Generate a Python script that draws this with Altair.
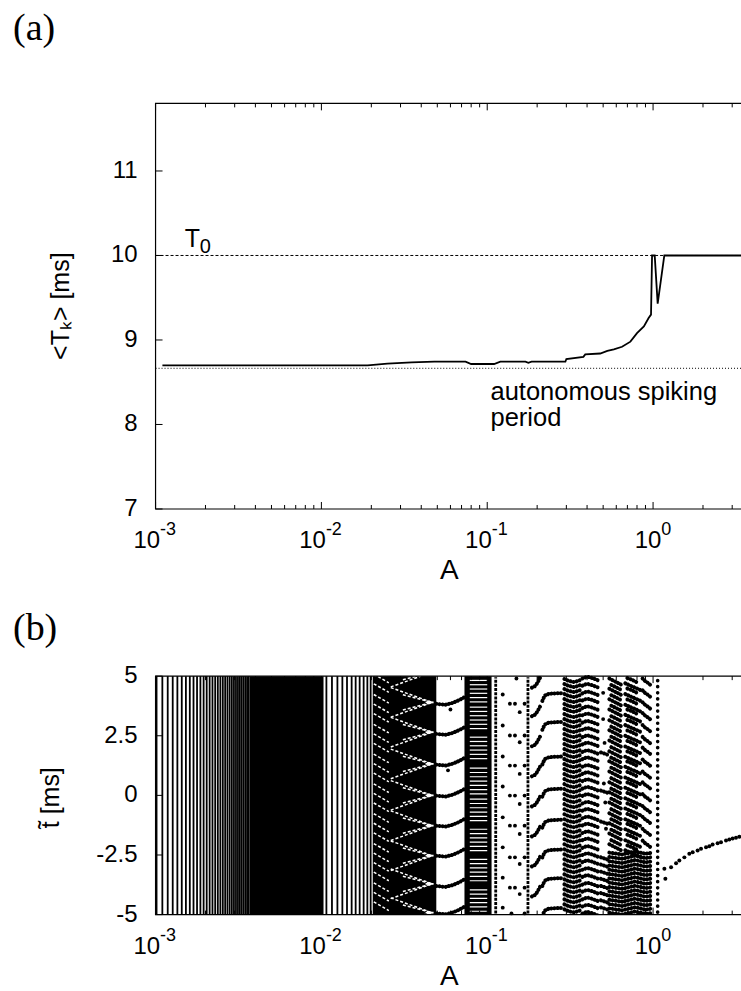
import altair as alt
import pandas as pd

# ---------------- panel (a): mean interspike interval ----------------
A_curve = [0.0011, 0.019, 0.025, 0.035, 0.048, 0.074, 0.08, 0.11, 0.12, 0.17, 0.177, 0.185,
           0.296, 0.30, 0.38, 0.39, 0.48, 0.53, 0.58, 0.65, 0.73, 0.80, 0.88, 0.94, 0.972,
           0.986, 1.023, 1.066, 1.169, 3.39]
T_curve = [8.70, 8.70, 8.72, 8.735, 8.743, 8.743, 8.716, 8.716, 8.743, 8.743, 8.73, 8.743,
           8.743, 8.775, 8.80, 8.83, 8.84, 8.87, 8.89, 8.92, 8.98, 9.08, 9.16, 9.26, 9.30,
           10.0, 10.0, 9.43, 10.0, 10.0]
T0_level = [10.0]
T_auto_level = [8.665]

ya_ticks = [7, 8, 9, 10, 11]
ya_labels = ["7", "8", "9", "10", "11"]
yb_ticks = [-5, -2.5, 0, 2.5, 5]
yb_labels = ["-5", "-2.5", "0", "2.5", "5"]
x_major = [0.001, 0.01, 0.1, 1.0]
x_exp = ["-3", "-2", "-1", "0"]
x_minor = [0.002, 0.003, 0.004, 0.005, 0.006, 0.007, 0.008, 0.009,
           0.02, 0.03, 0.04, 0.05, 0.06, 0.07, 0.08, 0.09,
           0.2, 0.3, 0.4, 0.5, 0.6, 0.7, 0.8, 0.9, 2.0, 3.0]

# ---------------- panel (b): stroboscopic spike phases ----------------
col_A = [1.014e-3, 1.099e-3, 1.184e-3, 1.269e-3, 1.354e-3, 1.439e-3, 1.524e-3, 1.609e-3,
         1.694e-3, 1.779e-3, 1.864e-3, 1.949e-3, 2.034e-3, 2.119e-3, 2.204e-3, 2.289e-3,
         2.374e-3, 2.459e-3, 2.544e-3, 2.629e-3, 2.714e-3, 2.799e-3, 2.884e-3, 2.969e-3,
         3.054e-3, 3.139e-3, 3.224e-3, 3.309e-3, 3.394e-3, 3.479e-3, 3.564e-3, 3.649e-3,
         1.072e-2, 1.158e-2, 1.249e-2, 1.338e-2, 1.427e-2, 1.522e-2, 1.609e-2, 1.701e-2,
         1.798e-2, 1.893e-2, 1.982e-2]
block_A0 = [3.70e-3, 2.04e-2, 7.29e-2]
block_A1 = [1.03e-2, 4.93e-2, 1.062e-1]
dotcol_A = [0.1125, 0.176]
sparse_col_A = [1.066]

chev_tip = [5.17, 3.9, 2.65, 1.32, 0.0, -1.27, -2.53, -3.71, -4.92]
stripe_y = [4.9, 4.5, 4.05, 3.65, 3.25, 2.8, 2.4, 2.0, 1.55, 1.15, 0.75, 0.3, -0.1, -0.5,
            -0.95, -1.35, -1.75, -2.2, -2.6, -3.0, -3.4, -3.85, -4.25, -4.65]
comb_y = [4.82, 4.64, 4.46, 4.28, 4.10, 3.92, 3.70, 3.52, 3.34, 3.16, 2.98, 2.80, 2.44, 2.26,
          2.08, 1.90, 1.72, 1.54, 1.14, 0.96, 0.78, 0.60, 0.42, 0.24, 0.06, -0.16, -0.34,
          -0.52, -0.70, -0.88, -1.06, -1.42, -1.60, -1.78, -1.96, -2.14, -2.32, -2.68, -2.86,
          -3.04, -3.22, -3.40, -3.58, -3.96, -4.14, -4.32, -4.50, -4.68, -4.86]
comb_span = [0.0785, 0.100]

stair1_y = [3.84, 2.58, 1.29, -0.01, -1.27, -2.53, -3.80, -4.95]
stair1_A = [0.0493, 0.056, 0.062, 0.068, 0.0729]
stair1_dy = [0.0, -0.04, 0.04, 0.16, 0.28]
rise_y = [4.62, 3.42, 2.16, 0.90, -0.36, -1.62, -2.88, -4.14]
rise_A = [0.186, 0.193, 0.200, 0.208]
rise_dy = [-0.1, -0.05, 0.08, 0.3]
stair2_y = [4.26, 3.05, 1.6, 0.25, -1.05, -2.3, -3.5, -4.75]
stair2_A = [0.215, 0.222, 0.235, 0.26, 0.285]
stair2_dy = [-0.3, -0.08, 0.0, 0.02, 0.03]
L1_y = [4.8, 4.59, 4.38, 4.17, 3.96, 3.75, 3.55, 3.33, 3.12, 2.91, 2.7, 2.49, 2.28, 2.07,
        1.86, 1.65, 1.44, 1.23, 1.02, 0.81, 0.6, 0.39, 0.18, -0.03, -0.24, -0.45, -0.66,
        -0.87, -1.08, -1.29, -1.5, -1.71, -1.92, -2.13, -2.34, -2.55, -2.76, -2.97, -3.18,
        -3.39, -3.6, -3.81, -4.02, -4.23, -4.44, -4.65, -4.86]
L1_A = [0.292, 0.31, 0.335, 0.365]
L1_dy = [0.08, 0.0, -0.05, 0.04]
L2_y = [4.9, 4.6, 4.28, 3.98, 3.66, 3.36, 3.05, 2.75, 2.44, 2.14, 1.82, 1.52, 1.2, 0.9, 0.6,
        0.28, -0.02, -0.34, -0.64, -0.96, -1.26, -1.58, -1.88, -2.2, -2.5, -2.8, -3.12,
        -3.42, -3.74, -4.04, -4.36, -4.66, -4.96]
L2_A = [0.375, 0.40, 0.43, 0.475]
L2_dy = [0.0, 0.08, 0.02, -0.1]
G_y = [1.8, 0.2, -1.1, -2.6, -2.9, -3.2, -3.5, -3.8, -4.1, -4.4, -4.7]
G_A = [0.485, 0.51, 0.535]
G_dy = [0.0, -0.05, -0.1]
M1_y = [4.85, 4.42, 3.98, 3.55, 3.1, 2.68, 2.25, 1.8, 1.38, 0.95, 0.5, 0.08, -0.35, -0.8,
        -1.22, -1.65, -2.1]
M1_A = [0.545, 0.58, 0.62, 0.66]
M1_dy = [0.05, -0.05, -0.15, -0.25]
M1b_y = [4.63, 4.2, 3.76, 3.32, 2.88, 2.46, 2.02, 1.58, 1.16, 0.72, 0.28, -0.14, -0.58, -1.0,
         -1.44, -1.88]
M1b_A = [0.56, 0.60, 0.64]
M1b_dy = [0.0, -0.1, -0.2]
M2_y = [4.7, 4.25, 3.8, 3.38, 2.95, 2.5, 2.05, 1.62, 1.2, 0.75, 0.32, -0.12, -0.55, -1.0,
        -1.42, -1.88, -2.3]
M2_A = [0.68, 0.73, 0.79, 0.85]
M2_dy = [0.0, -0.1, -0.2, -0.3]
M2b_y = [4.92, 4.48, 4.02, 3.6, 3.16, 2.72, 2.28, 1.84, 1.42, 0.98, 0.54, 0.1, -0.34, -0.78,
         -1.2, -1.65, -2.1]
M2b_A = [0.70, 0.75, 0.80]
M2b_dy = [0.0, -0.08, -0.18]
M3_y = [4.9, 4.4, 3.9, 3.45, 2.95, 2.45, 2.0, 1.5, 1.0, 0.55, 0.05, -0.45, -0.9, -1.4, -1.9]
M3_A = [0.865, 0.9, 0.94, 0.98]
M3_dy = [0.0, -0.12, -0.2, -0.32]
B_y = [-2.4, -2.58, -2.76, -2.94, -3.12, -3.3, -3.48, -3.66, -3.84, -4.02, -4.2, -4.38,
       -4.56, -4.74, -4.92]
B_A = [0.545, 0.65, 0.78, 0.9, 1.0]
B_dy = [0.0, -0.08, 0.05, -0.05, 0.0]

dots_A = [0.124] * 8 + [0.137] * 7 + [0.147] * 7 + [0.157] * 7 + [0.168] * 8 + \
         [0.150, 0.205, 0.14, 0.50, 0.51, 0.505, 0.52, 0.50, 0.515, 0.06, 0.058]
dots_y = [4.23, 2.93, 1.63, 0.37, -0.92, -2.18, -3.45, -4.71,
          3.84, 2.51, 1.25, -0.01, -1.27, -2.60, -3.87,
          3.84, 2.51, 1.25, -0.01, -1.27, -2.60, -3.87,
          3.49, 2.23, 0.90, -0.36, -1.62, -2.88, -4.14,
          3.84, 2.51, 1.25, -0.01, -1.27, -2.60, -3.87, -4.95,
          4.9, 4.92, -4.95, 4.3, 2.2, 0.5, -1.4, 3.2, -0.3, 3.6, 1.05]

tail_A = [1.17, 1.186, 1.284, 1.376, 1.44, 1.544, 1.654, 1.733, 1.856, 1.946, 2.086, 2.184,
          2.286, 2.45, 2.568, 2.753, 2.882, 3.017, 3.162, 3.311]
tail_y = [-3.08, -3.50, -3.01, -2.85, -2.73, -2.60, -2.45, -2.39, -2.31, -2.24, -2.18, -2.13,
          -2.06, -2.01, -1.97, -1.89, -1.85, -1.81, -1.78, -1.74]

# ---------------- scales and helpers ----------------
W, H = 586, 812
A_TOP, A_BOT = 0, 406          # pixel rows of panel (a) frame
B_TOP, B_BOT = 573.3, 812      # pixel rows of panel (b) frame
XS = alt.Scale(type="log", domain=[0.001, 3.39], nice=False)
YA = alt.Scale(domain=[2.2, 11.8], nice=False, zero=False)
YB = alt.Scale(domain=[-5.0, 29.02], nice=False, zero=False)
FONT = "Liberation Sans"


def X(f="A"):
    return alt.X(f"{f}:Q", scale=XS, axis=None)


def Ya(f):
    return alt.Y(f"{f}:Q", scale=YA, axis=None)


def Yb(f):
    return alt.Y(f"{f}:Q", scale=YB, axis=None)


def build(groups):
    rows = []
    for tag, levels, apts, dys in groups:
        for i, y0 in enumerate(levels):
            for k, (a, d) in enumerate(zip(apts, dys)):
                rows.append({"sid": f"{tag}{i}", "k": k, "A": a, "y": y0 + d})
    return pd.DataFrame(rows)


one = pd.DataFrame({"o": [0]})
layers = []

# ---- panel (a) ----
layers.append(alt.Chart(pd.DataFrame({"T": T0_level})).mark_rule(
    color="black", strokeWidth=1, strokeDash=[3, 2]).encode(
    x=alt.value(0), x2=alt.value(W), y=Ya("T")))
layers.append(alt.Chart(pd.DataFrame({"T": T_auto_level})).mark_rule(
    color="black", strokeWidth=1, strokeDash=[1, 2]).encode(
    x=alt.value(0), x2=alt.value(W), y=Ya("T")))
layers.append(alt.Chart(pd.DataFrame({"A": A_curve, "T": T_curve, "i": range(len(A_curve))}))
              .mark_line(color="black", strokeWidth=1.8)
              .encode(x=X(), y=Ya("T"), order="i:Q"))
layers.append(alt.Chart(pd.DataFrame({"A": [1.5e-3], "T": [10.10]})).mark_text(
    align="left", baseline="alphabetic", font=FONT, fontSize=25).encode(
    x=X(), y=Ya("T"), text=alt.value("T")))
layers.append(alt.Chart(pd.DataFrame({"A": [1.85e-3], "T": [10.027]})).mark_text(
    align="left", baseline="alphabetic", font=FONT, fontSize=20).encode(
    x=X(), y=Ya("T"), text=alt.value("0")))
layers.append(alt.Chart(pd.DataFrame({"A": [0.1047, 0.1047], "T": [8.289, 7.98],
                                      "s": ["autonomous spiking", "period"]})).mark_text(
    align="left", baseline="alphabetic", font=FONT, fontSize=25.5).encode(
    x=X(), y=Ya("T"), text="s:N"))

# ---- panel (b) ----
blocks = pd.DataFrame({"A0": block_A0, "A1": block_A1})
layers.append(alt.Chart(blocks).transform_calculate(lo="-5", hi="5").mark_rect(color="black").encode(
    x=X("A0"), x2=alt.X2("A1:Q"), y=Yb("lo"), y2=alt.Y2("hi:Q")))
layers.append(alt.Chart(pd.DataFrame({"A": col_A})).transform_calculate(lo="-5", hi="5")
              .mark_rule(color="black", strokeWidth=1.8)
              .encode(x=X(), y=Yb("lo"), y2=alt.Y2("hi:Q")))

white_segs = build([
    ("cu", chev_tip, [0.0262, 0.0466], [0.62, 0.0]),
    ("cl", chev_tip, [0.0262, 0.0466], [-0.62, 0.0]),
    ("iu", chev_tip, [0.031, 0.0466], [0.32, 0.0]),
    ("il", chev_tip, [0.031, 0.0466], [-0.32, 0.0]),
    ("st", stripe_y, [0.0207, 0.0255], [0.18, -0.18]),
])
layers.append(alt.Chart(white_segs).mark_line(color="white", strokeWidth=1.5, strokeDash=[3, 2], clip=True)
              .encode(x=X(), y=Yb("y"), detail="sid:N", order="k:Q"))
tips = build([("tp", chev_tip, [0.0425, 0.0475], [0.0, 0.0])])
layers.append(alt.Chart(tips).mark_line(color="white", strokeWidth=1.8, clip=True)
              .encode(x=X(), y=Yb("y"), detail="sid:N", order="k:Q"))
comb = build([("cb", comb_y, comb_span, [0.0, 0.0])])
layers.append(alt.Chart(comb).mark_line(color="white", strokeWidth=1.2, clip=True)
              .encode(x=X(), y=Yb("y"), detail="sid:N", order="k:Q"))

black_strands = build([
    ("s1", stair1_y, stair1_A, stair1_dy),
    ("r", rise_y, rise_A, rise_dy),
    ("s2", stair2_y, stair2_A, stair2_dy),
    ("l1", L1_y, L1_A, L1_dy),
    ("l2", L2_y, L2_A, L2_dy),
    ("g", G_y, G_A, G_dy),
    ("m1", M1_y, M1_A, M1_dy),
    ("m1b", M1b_y, M1b_A, M1b_dy),
    ("m2", M2_y, M2_A, M2_dy),
    ("m2b", M2b_y, M2b_A, M2b_dy),
    ("m3", M3_y, M3_A, M3_dy),
    ("b", B_y, B_A, B_dy),
])
layers.append(alt.Chart(black_strands).mark_line(
    color="black", strokeWidth=4.0, strokeDash=[0.1, 3.1], strokeCap="round", clip=True)
    .encode(x=X(), y=Yb("y"), detail="sid:N", order="k:Q"))
layers.append(alt.Chart(pd.DataFrame({"A": dotcol_A})).transform_calculate(lo="-4.95", hi="4.95")
              .mark_rule(color="black", strokeWidth=2.8, strokeDash=[3, 1.2])
              .encode(x=X(), y=Yb("lo"), y2=alt.Y2("hi:Q")))
layers.append(alt.Chart(pd.DataFrame({"A": sparse_col_A})).transform_calculate(lo="-4.9", hi="4.9")
              .mark_rule(color="black", strokeWidth=3.6, strokeDash=[0.1, 6], strokeCap="round")
              .encode(x=X(), y=Yb("lo"), y2=alt.Y2("hi:Q")))
layers.append(alt.Chart(pd.DataFrame({"A": dots_A, "y": dots_y})).mark_circle(
    color="black", size=15, opacity=1).encode(x=X(), y=Yb("y")))
layers.append(alt.Chart(pd.DataFrame({"A": tail_A, "y": tail_y})).mark_circle(
    color="black", size=16, opacity=1).encode(x=X(), y=Yb("y")))

# ---- frames, ticks and labels ----
for top, bot in [(A_TOP, A_BOT), (B_TOP, B_BOT)]:
    layers.append(alt.Chart(one).mark_rect(fillOpacity=0, stroke="black", strokeWidth=1.2).encode(
        x=alt.value(0), x2=alt.value(W + 10), y=alt.value(top), y2=alt.value(bot)))
    for vals, ln in [(x_major, 7), (x_minor, 4)]:
        d = pd.DataFrame({"A": vals})
        layers.append(alt.Chart(d).mark_rule(color="black", strokeWidth=1).encode(
            x=X(), y=alt.value(top), y2=alt.value(top + ln)))
        layers.append(alt.Chart(d).mark_rule(color="black", strokeWidth=1).encode(
            x=X(), y=alt.value(bot), y2=alt.value(bot - ln)))
    # x tick labels: "10" with superscript exponent
    xl = pd.DataFrame({"A": x_major, "e": x_exp})
    base = bot + 39.3
    for cond, dx in [("datum.e != '0'", 4.5), ("datum.e == '0'", 8.3)]:
        layers.append(alt.Chart(xl).transform_filter(cond).mark_text(
            align="right", baseline="alphabetic", dx=dx, font=FONT, fontSize=24).encode(
            x=X(), y=alt.value(base), text=alt.value("10")))
        layers.append(alt.Chart(xl).transform_filter(cond).mark_text(
            align="left", baseline="alphabetic", dx=dx, font=FONT, fontSize=18).encode(
            x=X(), y=alt.value(base - 13.3), text="e:N"))
    layers.append(alt.Chart(one).mark_text(
        align="center", baseline="alphabetic", font=FONT, fontSize=28).encode(
        x=alt.value(294), y=alt.value(bot + 70), text=alt.value("A")))

ya_df = pd.DataFrame({"v": ya_ticks, "lab": ya_labels})
layers.append(alt.Chart(ya_df).mark_rule(color="black", strokeWidth=1).encode(
    x=alt.value(0), x2=alt.value(7), y=Ya("v")))
layers.append(alt.Chart(ya_df).mark_text(align="right", baseline="middle", font=FONT, fontSize=24).encode(
    x=alt.value(-18), y=Ya("v"), text="lab:N"))
yb_df = pd.DataFrame({"v": yb_ticks, "lab": yb_labels})
layers.append(alt.Chart(yb_df).mark_rule(color="black", strokeWidth=1).encode(
    x=alt.value(0), x2=alt.value(7), y=Yb("v")))
layers.append(alt.Chart(yb_df).mark_text(align="right", baseline="middle", font=FONT, fontSize=24).encode(
    x=alt.value(-18), y=Yb("v"), text="lab:N"))

layers.append(alt.Chart(one).mark_text(angle=270, align="center", baseline="middle", font=FONT, fontSize=25)
              .encode(x=alt.value(-94.7), y=alt.value(203), text=alt.value("<T\u2096> [ms]")))
layers.append(alt.Chart(one).mark_text(angle=270, align="center", baseline="middle", font=FONT, fontSize=25)
              .encode(x=alt.value(-104.7), y=alt.value(695), text=alt.value("t\u0303  [ms]")))
layers.append(alt.Chart(one).mark_text(align="left", baseline="alphabetic", font="Liberation Serif", fontSize=38)
              .encode(x=alt.value(-142.7), y=alt.value(-63), text=alt.value("(a)")))
layers.append(alt.Chart(one).mark_text(align="left", baseline="alphabetic", font="Liberation Serif", fontSize=38)
              .encode(x=alt.value(-142.7), y=alt.value(537), text=alt.value("(b)")))

chart = alt.layer(*layers).resolve_scale(y="independent").properties(
    width=W, height=H,
    padding={"left": 155.7, "top": 103, "right": 0, "bottom": 76},
    autosize=alt.AutoSizeParams(type="none"),
).configure_view(stroke=None)

chart.save("out.html", embed_options={"renderer": "svg", "actions": False})
